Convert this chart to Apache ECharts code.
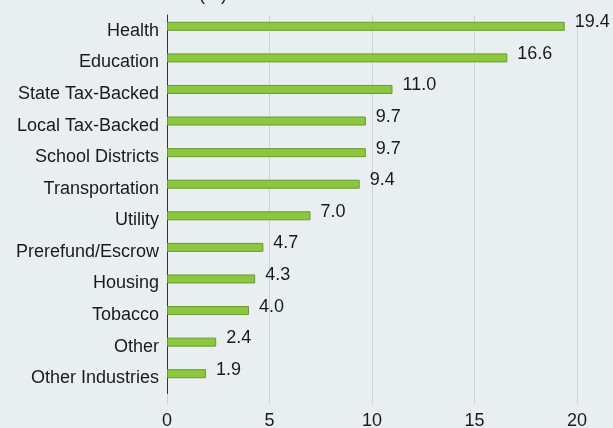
<!DOCTYPE html>
<html>
<head>
<meta charset="utf-8">
<script src="https://cdn.jsdelivr.net/npm/echarts@6/dist/echarts.min.js"></script>
<style>
  html, body { margin: 0; padding: 0; background: #e9eef1; }
  #main { width: 613px; height: 428px; }
</style>
</head>
<body>
<div id="main"></div>
<script>
var sectors = ['Health', 'Education', 'State Tax-Backed', 'Local Tax-Backed', 'School Districts',
  'Transportation', 'Utility', 'Prerefund/Escrow', 'Housing', 'Tobacco', 'Other', 'Other Industries'];
var shares = [19.4, 16.6, 11.0, 9.7, 9.7, 9.4, 7.0, 4.7, 4.3, 4.0, 2.4, 1.9];
var xTicks = [0, 5, 10, 15, 20];

var myChart = echarts.init(document.getElementById('main'));
var option = {
  backgroundColor: '#e9eef1',
  textStyle: { fontFamily: 'Liberation Sans, Arial, sans-serif' },
  title: {
    text: '(%)',
    left: 194,
    top: -19,
    textStyle: { fontSize: 18, fontWeight: 'normal', color: '#1a1a1a' }
  },
  grid: {
    left: 167,
    right: 36,
    top: 15,
    bottom: 34,
    containLabel: false,
    outerBoundsMode: 'none'
  },
  xAxis: {
    type: 'value',
    min: xTicks[0],
    max: xTicks[xTicks.length - 1],
    interval: 5,
    axisLine: { show: false },
    axisTick: { show: true, length: 10, lineStyle: { color: '#cfd3d6', width: 1 } },
    axisLabel: { color: '#1a1a1a', fontSize: 18, margin: 18 },
    splitLine: { show: true, lineStyle: { color: '#cfd3d6', width: 1 } }
  },
  yAxis: {
    type: 'category',
    inverse: true,
    data: sectors,
    axisLine: { show: true, lineStyle: { color: '#333333', width: 1 } },
    axisTick: { show: false },
    axisLabel: { color: '#1a1a1a', fontSize: 18, margin: 8 }
  },
  series: [
    {
      type: 'bar',
      data: shares,
      barWidth: 9,
      barGap: '0%',
      itemStyle: {
        color: '#8dc63f',
        borderColor: '#6a9a2c',
        borderWidth: 1
      },
      label: {
        show: true,
        position: 'right',
        distance: 10,
        offset: [0, -4],
        fontSize: 18,
        color: '#1a1a1a',
        formatter: function (p) { return p.value.toFixed(1); }
      },
      animation: false
    },
    {
      // empty slot so the green bars sit a little above the category labels
      type: 'bar',
      data: sectors.map(function () { return '-'; }),
      barWidth: 9,
      barGap: '0%',
      silent: true,
      animation: false
    }
  ],
  animation: false
};
myChart.setOption(option);
</script>
</body>
</html>
